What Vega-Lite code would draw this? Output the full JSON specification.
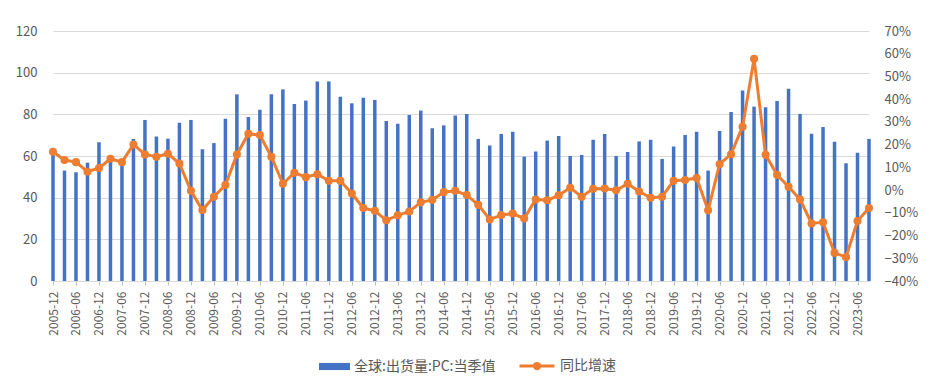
{
  "$schema": "https://vega.github.io/schema/vega-lite/v6.json",
  "width": 816,
  "height": 250,
  "autosize": {"type": "none"},
  "padding": {"left": 53, "top": 31, "right": 66, "bottom": 95},
  "background": "white",
  "config": {
    "view": {"stroke": null},
    "font": "Noto Sans CJK SC",
    "axis": {"labelFont": "Noto Sans CJK SC", "labelColor": "#595959", "titleFont": "Noto Sans CJK SC"},
    "legend": {"labelFont": "Noto Sans CJK SC", "labelColor": "#595959", "labelFontSize": 14, "padding": 0, "offset": 0}
  },
  "data": {
    "values": [
      {"q": "2005-12", "v": 61.0, "g": 0.169},
      {"q": "2006-03", "v": 53.0, "g": 0.132},
      {"q": "2006-06", "v": 52.2, "g": 0.123},
      {"q": "2006-09", "v": 56.8, "g": 0.081},
      {"q": "2006-12", "v": 66.6, "g": 0.097},
      {"q": "2007-03", "v": 60.3, "g": 0.138},
      {"q": "2007-06", "v": 58.7, "g": 0.123},
      {"q": "2007-09", "v": 68.2, "g": 0.201},
      {"q": "2007-12", "v": 77.3, "g": 0.157},
      {"q": "2008-03", "v": 69.4, "g": 0.147},
      {"q": "2008-06", "v": 68.3, "g": 0.160},
      {"q": "2008-09", "v": 76.0, "g": 0.117},
      {"q": "2008-12", "v": 77.3, "g": -0.003},
      {"q": "2009-03", "v": 63.2, "g": -0.088},
      {"q": "2009-06", "v": 66.2, "g": -0.029},
      {"q": "2009-09", "v": 77.9, "g": 0.022},
      {"q": "2009-12", "v": 89.6, "g": 0.157},
      {"q": "2010-03", "v": 78.7, "g": 0.248},
      {"q": "2010-06", "v": 82.2, "g": 0.242},
      {"q": "2010-09", "v": 89.6, "g": 0.147},
      {"q": "2010-12", "v": 92.0, "g": 0.028},
      {"q": "2011-03", "v": 85.0, "g": 0.076},
      {"q": "2011-06", "v": 86.6, "g": 0.057},
      {"q": "2011-09", "v": 95.8, "g": 0.070},
      {"q": "2011-12", "v": 95.8, "g": 0.041},
      {"q": "2012-03", "v": 88.5, "g": 0.041},
      {"q": "2012-06", "v": 85.3, "g": -0.015},
      {"q": "2012-09", "v": 88.0, "g": -0.079},
      {"q": "2012-12", "v": 86.9, "g": -0.091},
      {"q": "2013-03", "v": 76.8, "g": -0.133},
      {"q": "2013-06", "v": 75.5, "g": -0.111},
      {"q": "2013-09", "v": 79.7, "g": -0.094},
      {"q": "2013-12", "v": 81.8, "g": -0.054},
      {"q": "2014-03", "v": 73.3, "g": -0.043},
      {"q": "2014-06", "v": 74.7, "g": -0.009},
      {"q": "2014-09", "v": 79.5, "g": -0.003},
      {"q": "2014-12", "v": 80.2, "g": -0.022},
      {"q": "2015-03", "v": 68.2, "g": -0.065},
      {"q": "2015-06", "v": 65.1, "g": -0.129},
      {"q": "2015-09", "v": 70.6, "g": -0.110},
      {"q": "2015-12", "v": 71.7, "g": -0.103},
      {"q": "2016-03", "v": 59.7, "g": -0.125},
      {"q": "2016-06", "v": 62.2, "g": -0.041},
      {"q": "2016-09", "v": 67.4, "g": -0.045},
      {"q": "2016-12", "v": 69.6, "g": -0.023},
      {"q": "2017-03", "v": 60.0, "g": 0.010},
      {"q": "2017-06", "v": 60.5, "g": -0.029},
      {"q": "2017-09", "v": 67.8, "g": 0.006},
      {"q": "2017-12", "v": 70.6, "g": 0.007},
      {"q": "2018-03", "v": 60.0, "g": -0.001},
      {"q": "2018-06", "v": 61.9, "g": 0.028},
      {"q": "2018-09", "v": 67.0, "g": -0.006},
      {"q": "2018-12", "v": 67.8, "g": -0.034},
      {"q": "2019-03", "v": 58.6, "g": -0.029},
      {"q": "2019-06", "v": 64.6, "g": 0.041},
      {"q": "2019-09", "v": 70.1, "g": 0.044},
      {"q": "2019-12", "v": 71.7, "g": 0.053},
      {"q": "2020-03", "v": 53.0, "g": -0.089},
      {"q": "2020-06", "v": 72.0, "g": 0.114},
      {"q": "2020-09", "v": 81.1, "g": 0.158},
      {"q": "2020-12", "v": 91.5, "g": 0.279},
      {"q": "2021-03", "v": 83.7, "g": 0.578},
      {"q": "2021-06", "v": 83.4, "g": 0.155},
      {"q": "2021-09", "v": 86.4, "g": 0.067},
      {"q": "2021-12", "v": 92.3, "g": 0.015},
      {"q": "2022-03", "v": 80.2, "g": -0.041},
      {"q": "2022-06", "v": 70.7, "g": -0.147},
      {"q": "2022-09", "v": 73.9, "g": -0.142},
      {"q": "2022-12", "v": 66.9, "g": -0.276},
      {"q": "2023-03", "v": 56.5, "g": -0.295},
      {"q": "2023-06", "v": 61.6, "g": -0.136},
      {"q": "2023-09", "v": 68.2, "g": -0.079}
    ]
  },
  "encoding": {
    "x": {
      "field": "q",
      "type": "ordinal",
      "sort": null,
      "scale": {"type": "point", "padding": 0},
      "axis": {
        "title": null,
        "values": ["2005-12","2006-06","2006-12","2007-06","2007-12","2008-06","2008-12","2009-06","2009-12","2010-06","2010-12","2011-06","2011-12","2012-06","2012-12","2013-06","2013-12","2014-06","2014-12","2015-06","2015-12","2016-06","2016-12","2017-06","2017-12","2018-06","2018-12","2019-06","2019-12","2020-06","2020-12","2021-06","2021-12","2022-06","2022-12","2023-06"],
        "labelAngle": -90,
        "labelFontSize": 12,
        "labelPadding": 6,
        "tickSize": 4,
        "tickColor": "#bfbfbf",
        "domainColor": "#d9d9d9",
        "grid": false
      }
    }
  },
  "layer": [
    {
      "mark": {"type": "bar", "size": 3.5},
      "encoding": {
        "y": {
          "field": "v",
          "type": "quantitative",
          "scale": {"domain": [0, 120], "nice": false},
          "axis": {
            "title": null,
            "values": [0, 20, 40, 60, 80, 100, 120],
            "labelFontSize": 13,
            "labelPadding": 16,
            "ticks": false,
            "domain": false,
            "grid": true,
            "gridColor": "#d9d9d9",
            "gridWidth": 1
          }
        },
        "color": {
          "datum": "全球:出货量:PC:当季值",
          "scale": {"range": ["#4472C4"]},
          "legend": {
            "title": null,
            "orient": "none",
            "legendX": 266,
            "legendY": 320,
            "symbolType": "M-1,-0.23H1V0.23H-1Z",
            "symbolSize": 961,
            "symbolStrokeWidth": 0
          }
        }
      }
    },
    {
      "encoding": {
        "y": {
          "field": "g",
          "type": "quantitative",
          "scale": {"domain": [-0.4, 0.7], "nice": false},
          "axis": {
            "title": null,
            "orient": "right",
            "format": ".0%",
            "values": [-0.4, -0.3, -0.2, -0.1, 0, 0.1, 0.2, 0.3, 0.4, 0.5, 0.6, 0.7],
            "labelFontSize": 13,
            "labelPadding": 15,
            "ticks": false,
            "domain": false,
            "grid": false
          }
        }
      },
      "layer": [
        {
          "mark": {"type": "line", "strokeWidth": 3},
          "encoding": {
            "stroke": {
              "datum": "同比增速",
              "scale": {"range": ["#ED7D31"]},
              "legend": {
                "title": null,
                "orient": "none",
                "legendX": 465,
                "legendY": 316,
                "symbolType": "M-1,0H1M-0.15,0A0.15,0.15,0,1,1,0.15,0A0.15,0.15,0,1,1,-0.15,0Z",
                "symbolSize": 1225,
                "symbolStrokeWidth": 3,
                "encode": {"symbols": {"update": {"fill": {"value": "#ED7D31"}}}}
              }
            }
          }
        },
        {
          "mark": {"type": "point", "filled": true, "size": 65, "color": "#ED7D31", "opacity": 1}
        }
      ]
    }
  ],
  "resolve": {"scale": {"y": "independent", "color": "independent"}}
}
